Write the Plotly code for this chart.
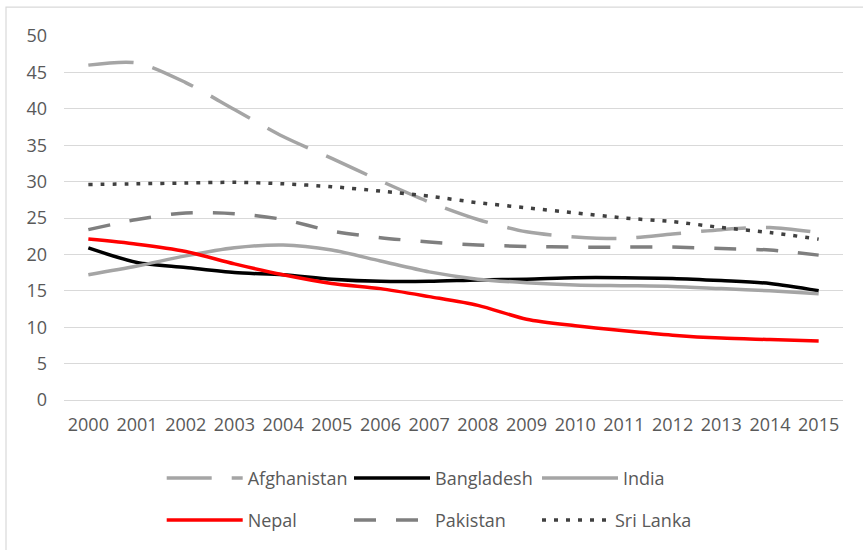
import plotly.graph_objects as go

years = [str(y) for y in range(2000, 2016)]

afghanistan = [46.0, 46.3, 43.6, 39.9, 36.2, 33.2, 30.1, 27.2, 24.8, 23.1, 22.4, 22.2, 22.8, 23.4, 23.7, 23.0]
bangladesh = [20.9, 18.9, 18.2, 17.5, 17.2, 16.6, 16.3, 16.3, 16.5, 16.6, 16.8, 16.8, 16.7, 16.4, 16.0, 15.0]
india = [17.2, 18.4, 19.8, 20.9, 21.3, 20.6, 19.1, 17.6, 16.6, 16.1, 15.8, 15.7, 15.6, 15.3, 15.0, 14.6]
nepal = [22.1, 21.4, 20.4, 18.7, 17.2, 16.0, 15.3, 14.2, 13.0, 11.1, 10.2, 9.5, 8.9, 8.5, 8.3, 8.1]
pakistan = [23.4, 24.8, 25.7, 25.6, 24.8, 23.2, 22.3, 21.7, 21.3, 21.1, 21.0, 21.0, 21.0, 20.8, 20.6, 19.9]
sri_lanka = [29.6, 29.7, 29.8, 29.9, 29.7, 29.3, 28.7, 28.0, 27.1, 26.4, 25.7, 25.0, 24.5, 23.7, 23.0, 22.1]

series_names = ["Afghanistan", "Bangladesh", "India", "Nepal", "Pakistan", "Sri Lanka"]
series_values = [afghanistan, bangladesh, india, nepal, pakistan, sri_lanka]
colors = ["#a5a5a5", "#000000", "#a5a5a5", "#ff0000", "#7f7f7f", "#404040"]
dashes = ["45px,20px", "solid", "solid", "solid", "22px,20px", "4px,8px"]

FONT = "Open Sans"
TXT = "#595959"

W, H = 863, 550
L, R, T, B = 64, 20, 36, 148.5
pw = W - L - R
ph = H - T - B


def px_x(px):
    return (px - L) / pw


def px_y(py):
    return (H - B - py) / ph


# legend slot layout (left pixel, center-y pixel, symbol width)
legend_slots = [
    (161.7, 479, 76),
    (349, 479, 76),
    (537, 479, 76),
    (161.7, 521, 76),
    (349, 521, 76),
    (537, 521, 68),
]

fig = go.Figure()
layout_legends = {}
for i, (name, vals, color, dash) in enumerate(zip(series_names, series_values, colors, dashes)):
    key = "legend" if i == 0 else f"legend{i + 1}"
    fig.add_trace(go.Scatter(
        x=years, y=vals, name=name, mode="lines", legend=key,
        line=dict(color=color, width=3.5, dash=dash, shape="spline", smoothing=0.8),
    ))
    lx, ly, iw = legend_slots[i]
    layout_legends[key] = dict(
        x=px_x(lx), y=px_y(ly), xanchor="left", yanchor="middle",
        orientation="h", itemwidth=iw,
        font=dict(family=FONT, size=18, color=TXT),
        bgcolor="rgba(0,0,0,0)", borderwidth=0,
    )

fig.update_layout(
    width=W, height=H,
    margin=dict(l=L, r=R, t=T, b=B),
    paper_bgcolor="white", plot_bgcolor="white",
    font=dict(family=FONT, size=18, color=TXT),
    xaxis=dict(
        type="category", range=[-0.5, 15.5], showgrid=False, zeroline=False,
        showline=False, ticks="", ticklabelstandoff=12,
        tickfont=dict(family=FONT, size=18, color=TXT),
    ),
    yaxis=dict(
        range=[0, 50], dtick=5, showgrid=True, gridcolor="#d9d9d9", gridwidth=1.2,
        zeroline=True, zerolinecolor="#d9d9d9", zerolinewidth=1.2,
        showline=False, ticks="", ticklabelstandoff=16,
        tickfont=dict(family=FONT, size=18, color=TXT),
    ),
    showlegend=True,
    shapes=[dict(
        type="rect", xref="paper", yref="paper",
        x0=px_x(6), x1=px_x(875), y0=px_y(565), y1=px_y(7),
        line=dict(color="#d9d9d9", width=1.2), fillcolor="rgba(0,0,0,0)",
        layer="below",
    )],
    **layout_legends,
)

fig.write_html("out.html")
